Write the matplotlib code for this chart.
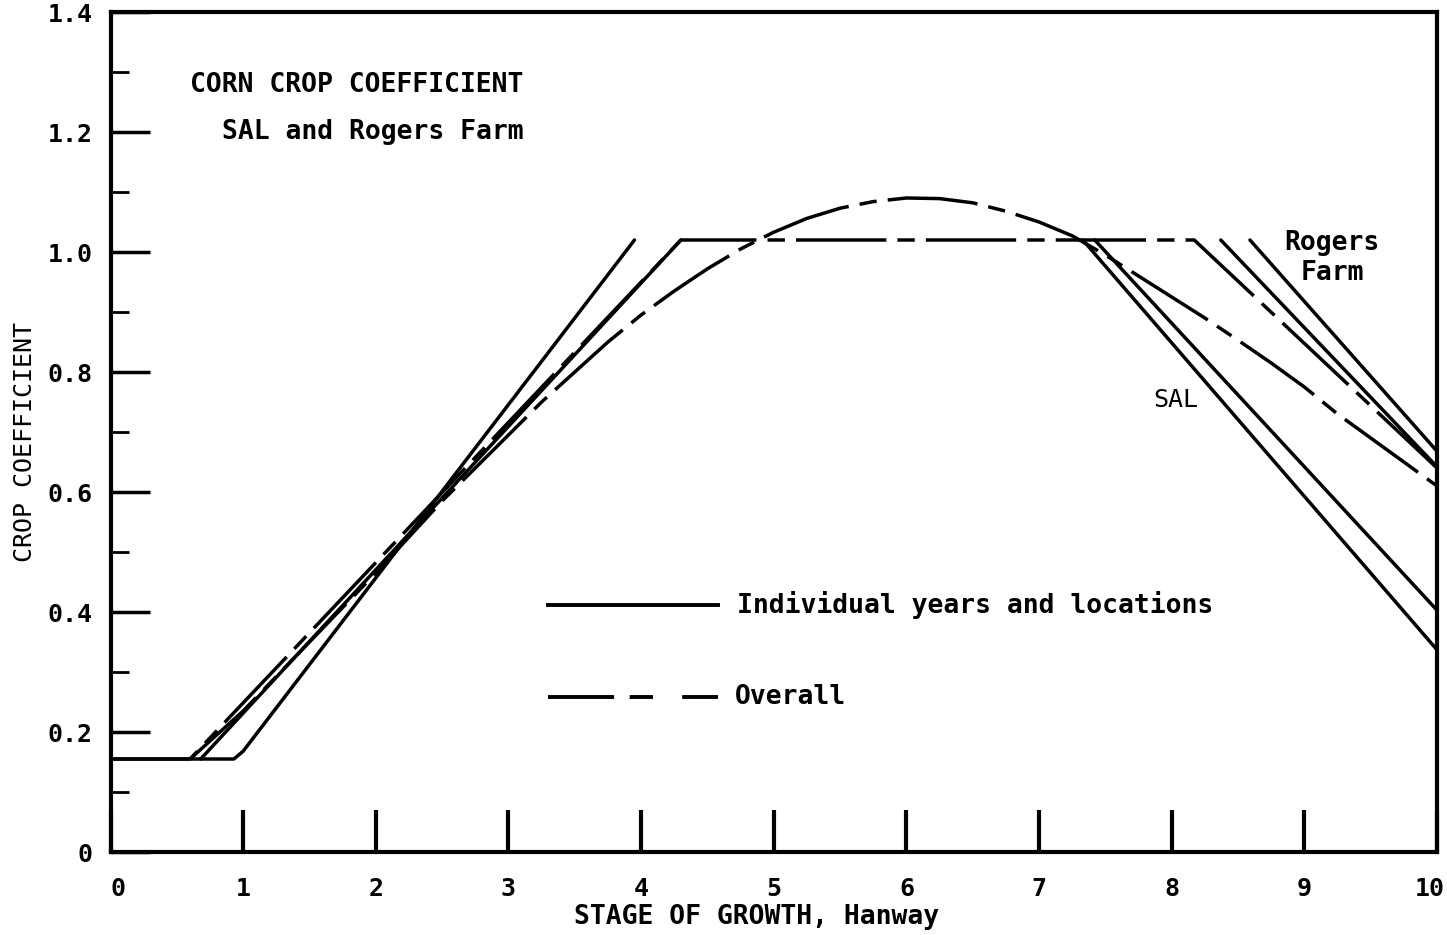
import matplotlib.pyplot as plt
import matplotlib.transforms as mtransforms

# overall curve (fitted polynomial)
curve_x = [0.6, 1.0, 1.5, 2.0, 2.5, 3.0, 3.25, 3.5, 3.75, 4.0, 4.25, 4.5,
           4.75, 5.0, 5.25, 5.5, 5.75, 6.0, 6.25, 6.5, 6.75, 7.0, 7.25, 7.5,
           7.75, 8.0, 8.25, 8.5, 8.75, 9.0, 9.25, 9.5, 9.75, 10.0]
curve_y = [0.155, 0.235, 0.35, 0.465, 0.585, 0.695, 0.75, 0.80, 0.85, 0.895,
           0.935, 0.972, 1.005, 1.033, 1.056, 1.073, 1.084, 1.09, 1.089, 1.082,
           1.068, 1.05, 1.027, 0.995, 0.96, 0.925, 0.89, 0.853, 0.815, 0.775,
           0.73, 0.69, 0.65, 0.61]

# overall trapezoid
trap_x = [0.0, 0.6, 4.3, 8.17, 10.0]
trap_y = [0.155, 0.155, 1.02, 1.02, 0.64]

# individual years and locations
rise1_x = [0.0, 0.93, 1.0, 3.95]
rise1_y = [0.155, 0.155, 0.168, 1.02]
rise2_x = [0.68, 4.3]
rise2_y = [0.155, 1.02]
sal_a_x = [7.33, 10.0]
sal_a_y = [1.02, 0.337]
sal_b_x = [7.42, 10.0]
sal_b_y = [1.02, 0.403]
rog_a_x = [8.37, 10.0]
rog_a_y = [1.02, 0.642]
rog_b_x = [8.59, 10.0]
rog_b_y = [1.02, 0.668]

# legend samples
leg_x = [3.3, 4.58]
leg_solid_y = [0.412, 0.412]
leg_dash_y = [0.258, 0.258]

yticks = [0, 0.2, 0.4, 0.6, 0.8, 1.0, 1.2, 1.4]
ytick_labels = ['0', '0.2', '0.4', '0.6', '0.8', '1.0', '1.2', '1.4']
yminor = [0.1, 0.3, 0.5, 0.7, 0.9, 1.1, 1.3]
xticks = [0, 1, 2, 3, 4, 5, 6, 7, 8, 9, 10]

plt.rcParams['font.family'] = ['DejaVu Sans Mono']
plt.rcParams['font.weight'] = 'bold'

fig = plt.figure(figsize=(14.47, 9.35), dpi=100)
ax = fig.add_axes([110.5/1447, 83/935, 1326.5/1447, 840/935])

lw = 2.5
overall_dash = (26, 3.2, 5, 3.2)
ax.plot(curve_x, curve_y, color='black', lw=lw, dashes=overall_dash)
ax.plot(trap_x, trap_y, color='black', lw=lw, dashes=overall_dash)
for xs, ys in [(rise1_x, rise1_y), (rise2_x, rise2_y), (sal_a_x, sal_a_y),
               (sal_b_x, sal_b_y), (rog_a_x, rog_a_y), (rog_b_x, rog_b_y)]:
    ax.plot(xs, ys, color='black', lw=lw, solid_capstyle='round')

# legend drawn in the plot
ax.plot(leg_x, leg_solid_y, color='black', lw=lw + 0.3)
ax.plot(leg_x, leg_dash_y, color='black', lw=lw + 0.3, dashes=(17, 4, 6, 7.5, 16))
ax.text(4.72, 0.412, 'Individual years and locations', fontsize=19, va='center')
ax.text(4.71, 0.258, 'Overall', fontsize=19, va='center')

ax.text(0.6, 1.278, 'CORN CROP COEFFICIENT', fontsize=19, va='center')
ax.text(0.84, 1.2, 'SAL and Rogers Farm', fontsize=19, va='center')
ax.text(9.21, 0.99, 'Rogers\nFarm', fontsize=19, va='center', ha='center',
        linespacing=1.15)
ax.text(7.86, 0.753, 'SAL', fontsize=18, va='center', fontweight='normal')

ax.set_xlim(0, 10)
ax.set_ylim(0, 1.4)
ax.set_xticks(xticks)
ax.set_xticklabels([str(v) for v in xticks])
ax.set_yticks(yticks)
ax.set_yticklabels(ytick_labels)
ax.set_yticks(yminor, minor=True)
ax.tick_params(axis='x', direction='in', length=30, width=3, pad=18, labelsize=18)
ax.tick_params(axis='y', which='major', direction='in', length=28, width=2.5,
               pad=13, labelsize=18)
ax.tick_params(axis='y', which='minor', direction='in', length=13, width=2)
for s in ax.spines.values():
    s.set_linewidth(3)

# nudge the end labels inward like the original
xl = ax.get_xticklabels()
xl[0].set_transform(xl[0].get_transform() + mtransforms.ScaledTranslation(7/100, 0, fig.dpi_scale_trans))
xl[-1].set_transform(xl[-1].get_transform() + mtransforms.ScaledTranslation(-7/100, 0, fig.dpi_scale_trans))

fig.text(757/1447, 1 - 917/935, 'STAGE OF GROWTH, Hanway', fontsize=19,
         ha='center', va='center')
fig.text(25/1447, 1 - 442/935, 'CROP COEFFICIENT', fontsize=18, rotation=90,
         ha='center', va='center', fontweight='normal')

fig.savefig('out.png', dpi=100)
